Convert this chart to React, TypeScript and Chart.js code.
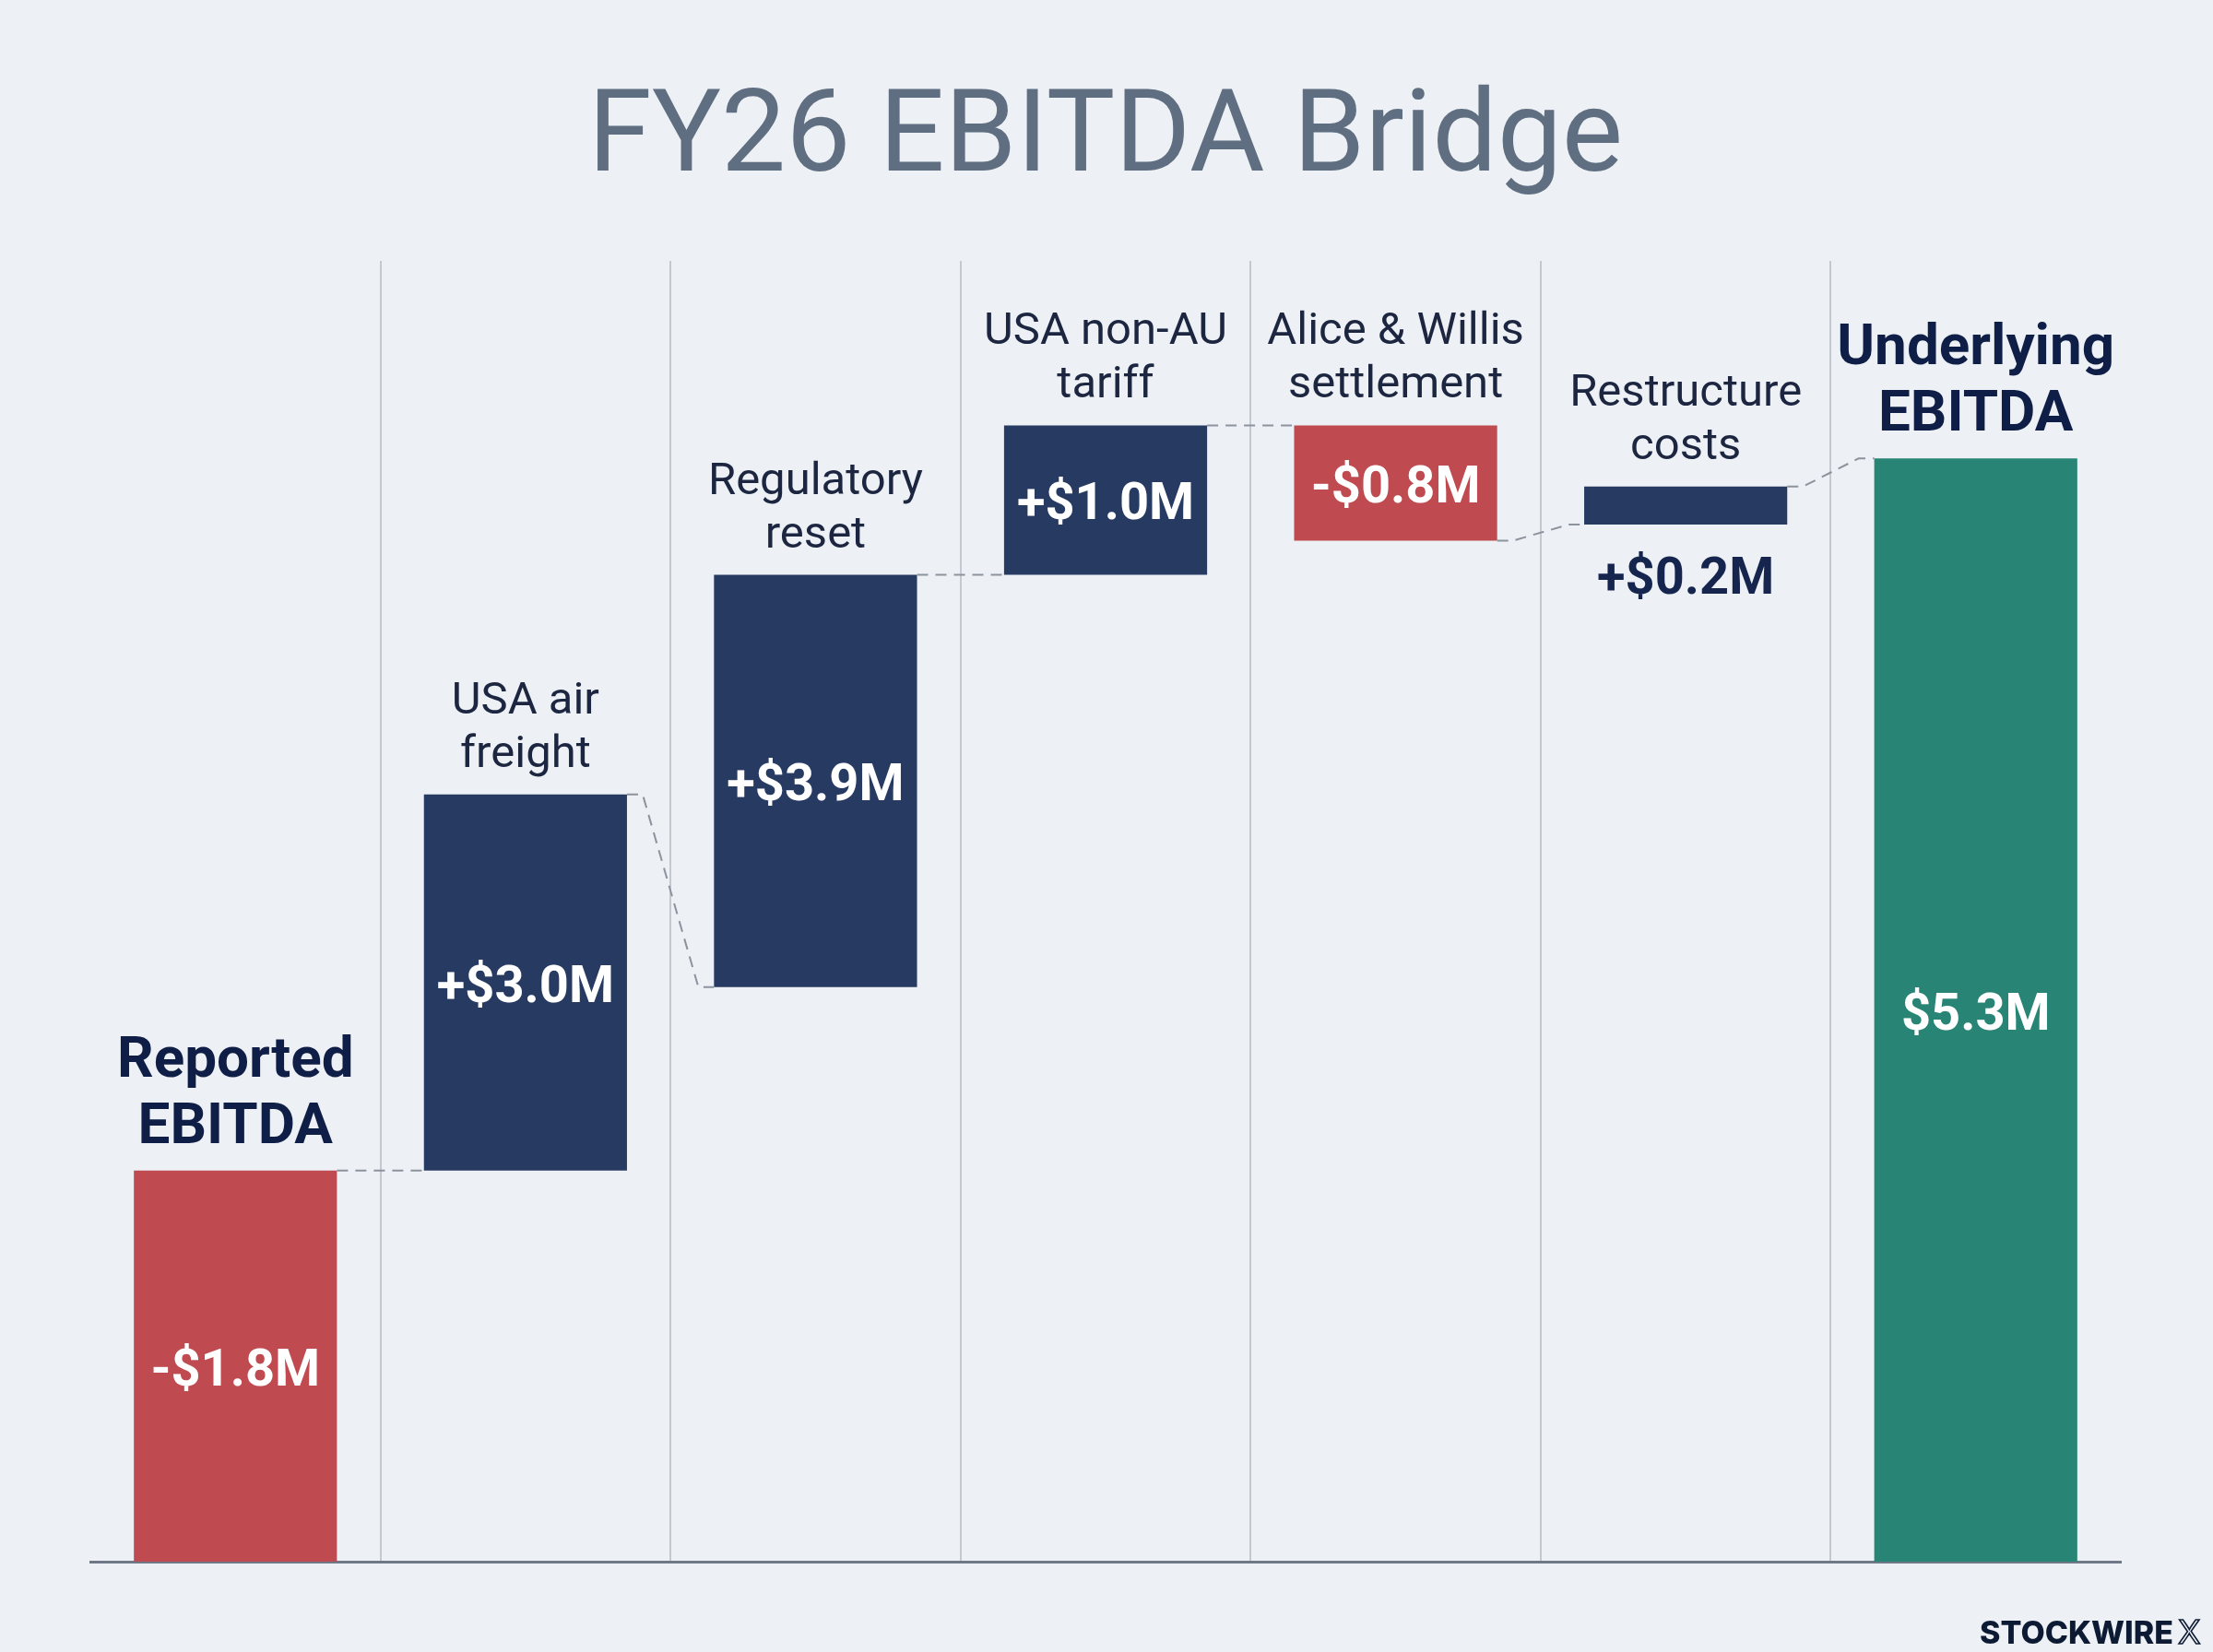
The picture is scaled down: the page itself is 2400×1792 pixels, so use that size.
import { useEffect, useRef } from "react";
import { Chart, registerables, ChartConfiguration, Plugin } from "chart.js";

Chart.register(...registerables);

// category labels, one entry per line
const categories = [
  ["Reported", "EBITDA"],
  ["USA air", "freight"],
  ["Regulatory", "reset"],
  ["USA non-AU", "tariff"],
  ["Alice & Willis", "settlement"],
  ["Restructure", "costs"],
  ["Underlying", "EBITDA"],
];
const kinds = ["total", "up", "up", "up", "down", "up", "total"];
const changes = [-1.8, 3.0, 3.9, 1.0, -0.8, 0.2, 5.3];
// bar ends as they sit in the picture ($M on the drawn scale)
const barBottoms = [-5.7, -1.8, 0.03, 4.14, 4.48, 4.64, -5.7];
const barTops = [-1.8, 1.95, 4.14, 5.63, 5.63, 5.02, 5.3];
const yMin = -5.7;
const yMax = 7.27;

const RED = "#bf4a4f";
const NAVY = "#273a62";
const GREEN = "#288474";
const BG = "#edf0f4";

const fmt = (v: number, kind: string) =>
  (v < 0 ? "-" : kind === "total" ? "" : "+") + "$" + Math.abs(v).toFixed(1) + "M";

const bridgePlugin: Plugin<"bar"> = {
  id: "bridge",
  beforeDraw(chart) {
    const ctx = chart.ctx;
    ctx.save();
    ctx.fillStyle = BG;
    ctx.fillRect(0, 0, chart.width, chart.height);
    ctx.restore();
  },
  afterDatasetsDraw(chart) {
    const ctx = chart.ctx;
    const yScale = chart.scales.y;
    const boxes = chart.getDatasetMeta(0).data.map((el) => {
      const p = el.getProps(["x", "y", "base", "width"], true) as any;
      return {
        x: p.x,
        top: Math.min(p.y, p.base),
        bottom: Math.max(p.y, p.base),
        left: p.x - p.width / 2,
        right: p.x + p.width / 2,
      };
    });

    // dashed connectors between bars
    ctx.save();
    ctx.strokeStyle = "#8c939d";
    ctx.lineWidth = 2;
    ctx.setLineDash([12, 8]);
    for (let i = 0; i < boxes.length - 1; i++) {
      const a = boxes[i];
      const b = boxes[i + 1];
      const yEnd = yScale.getPixelForValue(kinds[i] === "down" ? barBottoms[i] : barTops[i]);
      const yStart = yScale.getPixelForValue(kinds[i + 1] === "up" ? barBottoms[i + 1] : barTops[i + 1]);
      const stub = 17;
      ctx.beginPath();
      ctx.moveTo(a.right, yEnd);
      ctx.lineTo(a.right + stub, yEnd);
      ctx.lineTo(b.left - stub, yStart);
      ctx.lineTo(b.left, yStart);
      ctx.stroke();
    }
    ctx.restore();

    // category names above, values inside (or under small bars)
    ctx.save();
    ctx.textAlign = "center";
    boxes.forEach((b, i) => {
      const total = kinds[i] === "total";
      const lines = categories[i];
      const lh = total ? 72 : 58;
      ctx.font = total ? "700 62px Roboto" : "400 49px Roboto";
      ctx.fillStyle = total ? "#0f1e46" : "#1d2640";
      ctx.textBaseline = "alphabetic";
      lines.forEach((line, k) => {
        const yy = b.top - 30 - (lines.length - 1 - k) * lh;
        ctx.fillText(line, b.x, yy);
      });

      ctx.font = "700 56px Roboto";
      ctx.textBaseline = "middle";
      const text = fmt(changes[i], kinds[i]);
      if (b.bottom - b.top < 90) {
        ctx.fillStyle = "#16254d";
        ctx.fillText(text, b.x, b.bottom + 61);
      } else {
        ctx.fillStyle = "#ffffff";
        ctx.fillText(text, b.x, (b.top + b.bottom) / 2 + 7);
      }
    });
    ctx.restore();
  },
  afterDraw(chart) {
    const ctx = chart.ctx;
    ctx.save();
    ctx.fillStyle = "#0d1a33";
    ctx.strokeStyle = "#0d1a33";
    ctx.textBaseline = "alphabetic";
    ctx.font = "800 34px Inter";
    ctx.textAlign = "right";
    ctx.fillText("STOCKWIRE", 2357, 1783);
    ctx.textAlign = "left";
    ctx.font = "400 36px Inter";
    ctx.lineWidth = 1.6;
    ctx.strokeText("X", 2362, 1783);
    ctx.restore();
  },
};

export default function App() {
  const canvasRef = useRef<HTMLCanvasElement | null>(null);
  const chartRef = useRef<Chart | null>(null);

  useEffect(() => {
    document.body.style.margin = "0";
    document.body.style.background = BG;
    if (!canvasRef.current) return;
    if (chartRef.current) chartRef.current.destroy();

    const config: ChartConfiguration<"bar"> = {
      type: "bar",
      data: {
        labels: categories.map((c) => c.join(" ")),
        datasets: [
          {
            data: barBottoms.map((lo, i) => [lo, barTops[i]]) as any,
            backgroundColor: changes.map((v, i) =>
              v < 0 ? RED : kinds[i] === "total" ? GREEN : NAVY
            ),
            borderWidth: 0,
            barPercentage: 0.7,
            categoryPercentage: 1,
          },
        ],
      },
      options: {
        responsive: true,
        maintainAspectRatio: false,
        animation: false,
        layout: { padding: { left: 98, right: 100, top: 0, bottom: 98 } },
        plugins: {
          legend: { display: false },
          tooltip: { enabled: false },
          title: {
            display: true,
            text: "FY26 EBITDA Bridge",
            color: "#5f6e81",
            font: { family: "Roboto", size: 125, weight: 400 },
            padding: { top: 79, bottom: 54 },
          },
        },
        scales: {
          x: {
            ticks: { display: false },
            grid: {
              offset: true,
              drawTicks: false,
              lineWidth: 2,
              color: (c: any) =>
                c.type !== "tick" || c.index === 0 ? "rgba(0,0,0,0)" : "#c4c9d0",
            },
            border: { display: true, color: "#6f7886", width: 3 },
          },
          y: { display: false, min: yMin, max: yMax },
        },
      },
      plugins: [bridgePlugin],
    };

    chartRef.current = new Chart(canvasRef.current, config);
    return () => {
      chartRef.current?.destroy();
      chartRef.current = null;
    };
  }, []);

  return (
    <div style={{ position: "relative", width: 2400, height: 1792, background: BG }}>
      <canvas ref={canvasRef} />
    </div>
  );
}
